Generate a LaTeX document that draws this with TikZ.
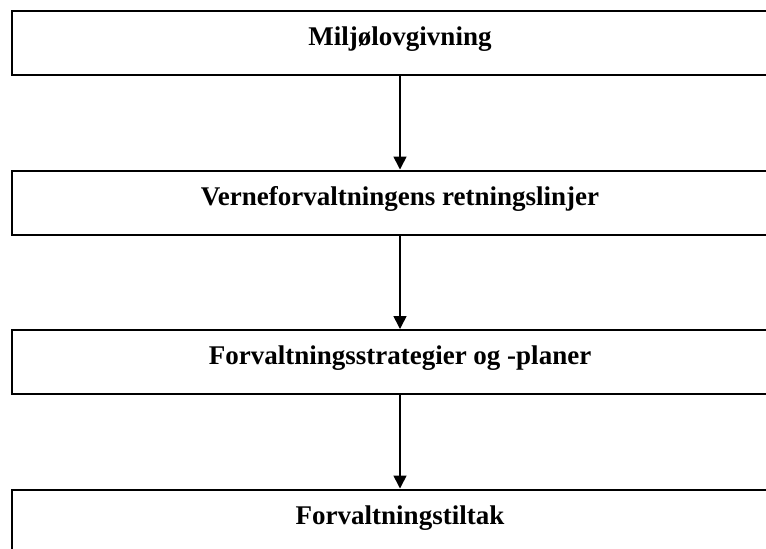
\documentclass[tikz,border=0pt]{standalone}
\usepackage{fontspec}
\setmainfont{Liberation Serif}
\usepackage{tikz}
\usetikzlibrary{positioning,arrows.meta}

\begin{document}
\begin{tikzpicture}[
  font=\fontsize{13.5}{16}\selectfont\bfseries,
  box/.style={draw, line width=1pt, align=center, minimum width=388pt, minimum height=32pt, text height=9pt, text depth=6.5pt},
  >={Triangle[width=6.5pt,length=6.5pt]}
]
\clip (0pt,0pt) rectangle (383pt,-274pt);
\node[box] (a) at (200pt,-21.5pt) {Miljølovgivning};
\node[box, below=46.75pt of a] (b) {Verneforvaltningens retningslinjer};
\node[box, below=46.75pt of b] (c) {Forvaltningsstrategier og -planer};
\node[box, below=46.75pt of c] (d) {Forvaltningstiltak};
\draw[->, line width=0.8pt] (a) -- (b);
\draw[->, line width=0.8pt] (b) -- (c);
\draw[->, line width=0.8pt] (c) -- (d);
\end{tikzpicture}
\end{document}
